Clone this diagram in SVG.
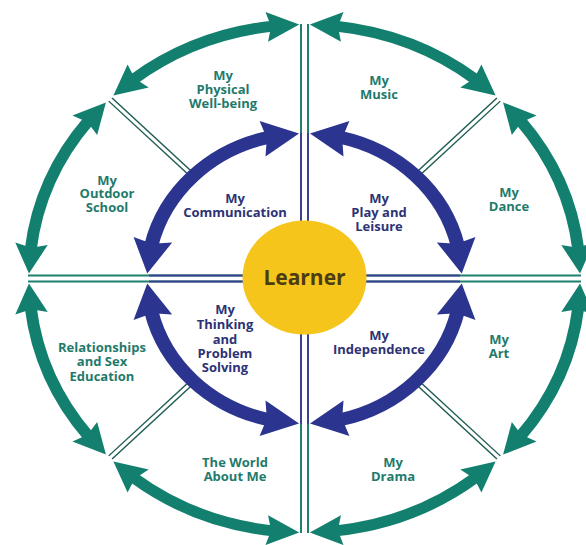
<svg xmlns="http://www.w3.org/2000/svg" xmlns:xlink="http://www.w3.org/1999/xlink" width="586" height="545" viewBox="0 0 586 545">
<style>
.t{font-family:"Open Sans","Liberation Sans",sans-serif;font-weight:700;font-size:13px;text-anchor:middle}
.teal{fill:#1f7a6c}
.navy{fill:#2d3275}
.os{fill:none;stroke:#13806f;stroke-width:11}
.is{fill:none;stroke:#2b3590;stroke-width:13}
.dl{stroke:#1d5c52;stroke-width:1.3}
.tl{stroke:#1f8070;stroke-width:2}
.nl{stroke:#3a4290;stroke-width:2}
</style>
<defs>
<polygon id="oh" points="0,0 -30,-15 -26,0 -30,15"/>
<polygon id="ih" points="0,0 -34,-18 -30,0 -34,18"/>
<g id="oarrow" fill="#13806f">
<path class="os" d="M252.36,28.8 A254,254 0 0 1 198.81,158.08"/>
<use xlink:href="#oh" transform="rotate(1.1) translate(254 0) rotate(-86.6)"/>
<use xlink:href="#oh" transform="rotate(43.9) translate(254 0) rotate(86.6)"/>
</g>
<g id="iarrow" fill="#2b3590">
<path class="is" d="M141.25,32.77 A145,145 0 0 1 32.77,141.25"/>
<use xlink:href="#ih" transform="rotate(2) translate(145 0) rotate(-83.3)"/>
<use xlink:href="#ih" transform="rotate(88) translate(145 0) rotate(83.3)"/>
</g>
<g id="diag">
<line class="dl" x1="151" y1="-2.2" x2="253" y2="-2.2"/>
<line class="dl" x1="151" y1="2.2" x2="253" y2="2.2"/>
</g>
</defs>
<rect width="586" height="545" fill="#ffffff"/>
<g id="dividers">
<line class="tl" x1="28" y1="275.5" x2="581" y2="275.5"/>
<line class="tl" x1="28" y1="281.5" x2="581" y2="281.5"/>
<line class="tl" x1="301" y1="24" x2="301" y2="533"/>
<line class="tl" x1="308" y1="24" x2="308" y2="533"/>
<line class="nl" x1="149" y1="275.5" x2="460" y2="275.5"/>
<line class="nl" x1="149" y1="281.5" x2="460" y2="281.5"/>
<line class="nl" x1="301" y1="133" x2="301" y2="424"/>
<line class="nl" x1="308" y1="133" x2="308" y2="424"/>
<g transform="translate(304.5 278.5) scale(1.085 1)">
<use xlink:href="#diag" transform="rotate(45)"/>
<use xlink:href="#diag" transform="rotate(135)"/>
<use xlink:href="#diag" transform="rotate(225)"/>
<use xlink:href="#diag" transform="rotate(315)"/>
</g>
</g>
<g id="connectors" transform="translate(304.5 278.5) scale(1.085 1)">
<use xlink:href="#oarrow" transform="rotate(0)"/>
<use xlink:href="#oarrow" transform="rotate(45)"/>
<use xlink:href="#oarrow" transform="rotate(90)"/>
<use xlink:href="#oarrow" transform="rotate(135)"/>
<use xlink:href="#oarrow" transform="rotate(180)"/>
<use xlink:href="#oarrow" transform="rotate(225)"/>
<use xlink:href="#oarrow" transform="rotate(270)"/>
<use xlink:href="#oarrow" transform="rotate(315)"/>
<use xlink:href="#iarrow" transform="rotate(0)"/>
<use xlink:href="#iarrow" transform="rotate(90)"/>
<use xlink:href="#iarrow" transform="rotate(180)"/>
<use xlink:href="#iarrow" transform="rotate(270)"/>
</g>
<g id="learner">
<ellipse cx="304.5" cy="277.5" rx="62" ry="57" fill="#f6c51c"/>
<text x="304.5" y="285" class="t" style="font-size:21px" fill="#4b3c12">Learner</text>
</g>
<g id="physical" class="t teal"><text x="223" y="79.5">My</text><text x="223" y="93.5">Physical</text><text x="223" y="107.5">Well-being</text></g>
<g id="outdoor" class="t teal"><text x="107" y="184.5">My</text><text x="107" y="198">Outdoor</text><text x="107" y="211.5">School</text></g>
<g id="music" class="t teal"><text x="379" y="84.5">My</text><text x="379" y="98.5">Music</text></g>
<g id="dance" class="t teal"><text x="509" y="196.5">My</text><text x="509" y="210.5">Dance</text></g>
<g id="relationships" class="t teal"><text x="102" y="351.5">Relationships</text><text x="102" y="366">and Sex</text><text x="102" y="380.5">Education</text></g>
<g id="world" class="t teal"><text x="235" y="466.5">The World</text><text x="235" y="480.5">About Me</text></g>
<g id="art" class="t teal"><text x="499" y="343.5">My</text><text x="499" y="357.5">Art</text></g>
<g id="drama" class="t teal"><text x="393" y="466.5">My</text><text x="393" y="480.5">Drama</text></g>
<g id="communication" class="t navy"><text x="235" y="202.5">My</text><text x="235" y="216.5">Communication</text></g>
<g id="play" class="t navy"><text x="379" y="202.5">My</text><text x="379" y="216.5">Play and</text><text x="379" y="231">Leisure</text></g>
<g id="thinking" class="t navy"><text x="225" y="313.5">My</text><text x="225" y="329">Thinking</text><text x="225" y="343.5">and</text><text x="225" y="357.5">Problem</text><text x="225" y="372">Solving</text></g>
<g id="independence" class="t navy"><text x="379" y="339.5">My</text><text x="379" y="353.5">Independence</text></g>
</svg>
